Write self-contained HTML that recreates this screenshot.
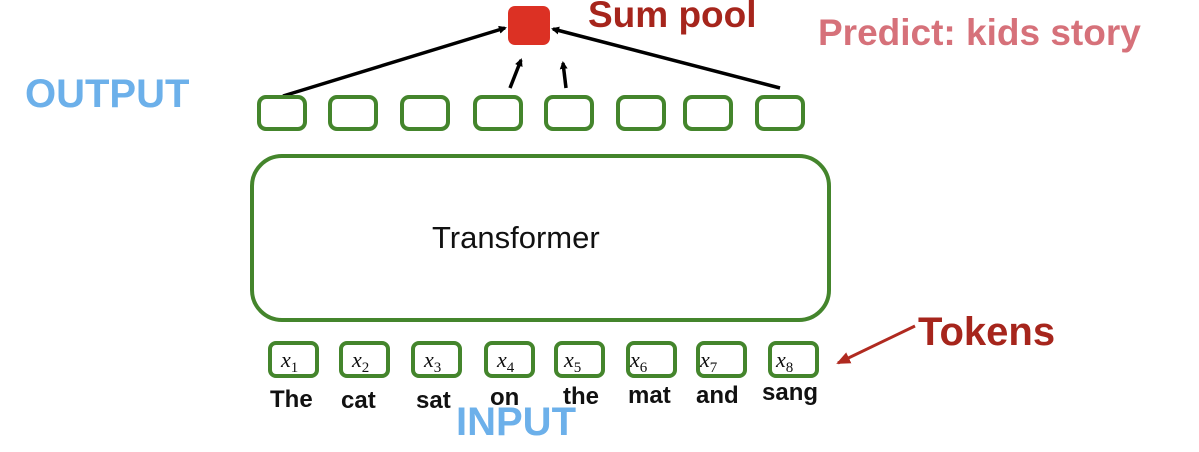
<!DOCTYPE html>
<html><head><style>
body{margin:0;width:1199px;height:452px;background:#fff;overflow:hidden;position:relative;font-family:"Liberation Sans","DejaVu Sans",sans-serif}
.t{position:absolute;white-space:nowrap;font-weight:bold}
</style></head><body>
<svg width="1199" height="452" style="position:absolute;left:0;top:0">
<defs><marker id="a" markerWidth="8" markerHeight="8" refX="6" refY="4" orient="auto" markerUnits="userSpaceOnUse"><path d="M0,0 L8,4 L0,8 z" fill="#000"/></marker>
<marker id="r" markerWidth="14" markerHeight="12" refX="12" refY="6" orient="auto" markerUnits="userSpaceOnUse"><path d="M0,0 L14,6 L0,12 z" fill="#b02a20"/></marker></defs>
<rect x="508" y="6" width="42" height="39" rx="7" fill="#dc3124"/>
<g stroke="#000" stroke-width="3.5" fill="none">
<line x1="283" y1="96" x2="505" y2="28" marker-end="url(#a)"/>
<line x1="510" y1="88" x2="521" y2="60" marker-end="url(#a)"/>
<line x1="566" y1="88" x2="563" y2="63" marker-end="url(#a)"/>
<line x1="780" y1="88" x2="553" y2="29" marker-end="url(#a)"/>
</g>
<g stroke="#44852c" stroke-width="4" fill="none">
<rect x="259" y="97" width="46" height="32" rx="7"/>
<rect x="330" y="97" width="46" height="32" rx="7"/>
<rect x="402" y="97" width="46" height="32" rx="7"/>
<rect x="475" y="97" width="46" height="32" rx="7"/>
<rect x="546" y="97" width="46" height="32" rx="7"/>
<rect x="618" y="97" width="46" height="32" rx="7"/>
<rect x="685" y="97" width="46" height="32" rx="7"/>
<rect x="757" y="97" width="46" height="32" rx="7"/>
<rect x="252" y="156" width="577" height="164" rx="30"/>
<rect x="270" y="343" width="47" height="33" rx="6"/>
<rect x="341" y="343" width="47" height="33" rx="6"/>
<rect x="413" y="343" width="47" height="33" rx="6"/>
<rect x="486" y="343" width="47" height="33" rx="6"/>
<rect x="556" y="343" width="47" height="33" rx="6"/>
<rect x="628" y="343" width="47" height="33" rx="6"/>
<rect x="698" y="343" width="47" height="33" rx="6"/>
<rect x="770" y="343" width="47" height="33" rx="6"/>
</g>
<line x1="915" y1="326" x2="838" y2="363" stroke="#b02a20" stroke-width="3" marker-end="url(#r)"/>
<g font-family="Liberation Serif,serif" font-style="italic" font-size="22" fill="#111">
<text x="281" y="367">x<tspan font-style="normal" font-size="15" dy="5">1</tspan></text>
<text x="352" y="367">x<tspan font-style="normal" font-size="15" dy="5">2</tspan></text>
<text x="424" y="367">x<tspan font-style="normal" font-size="15" dy="5">3</tspan></text>
<text x="497" y="367">x<tspan font-style="normal" font-size="15" dy="5">4</tspan></text>
<text x="564" y="367">x<tspan font-style="normal" font-size="15" dy="5">5</tspan></text>
<text x="630" y="367">x<tspan font-style="normal" font-size="15" dy="5">6</tspan></text>
<text x="700" y="367">x<tspan font-style="normal" font-size="15" dy="5">7</tspan></text>
<text x="776" y="367">x<tspan font-style="normal" font-size="15" dy="5">8</tspan></text>
</g>
<g font-family="Liberation Sans,sans-serif" font-weight="bold" font-size="24" fill="#111">
<text x="270" y="407">The</text><text x="341" y="408">cat</text><text x="416" y="408">sat</text>
<text x="490" y="405">on</text><text x="563" y="404">the</text><text x="628" y="403">mat</text>
<text x="696" y="403">and</text><text x="762" y="400">sang</text>
</g>
<text x="432" y="248" font-family="Liberation Sans,sans-serif" font-size="31" fill="#111">Transformer</text>
</svg>
<div class="t" style="left:25px;top:72px;font-size:40px;color:#6cb0ea">OUTPUT</div>
<div class="t" style="left:456px;top:400px;font-size:40px;color:#6cb0ea">INPUT</div>
<div class="t" style="left:588px;top:-6px;font-size:37px;color:#a6251c">Sum pool</div>
<div class="t" style="left:818px;top:12px;font-size:37px;color:#d6717a">Predict: kids story</div>
<div class="t" style="left:918px;top:310px;font-size:40px;color:#a6251c">Tokens</div>
</body></html>
